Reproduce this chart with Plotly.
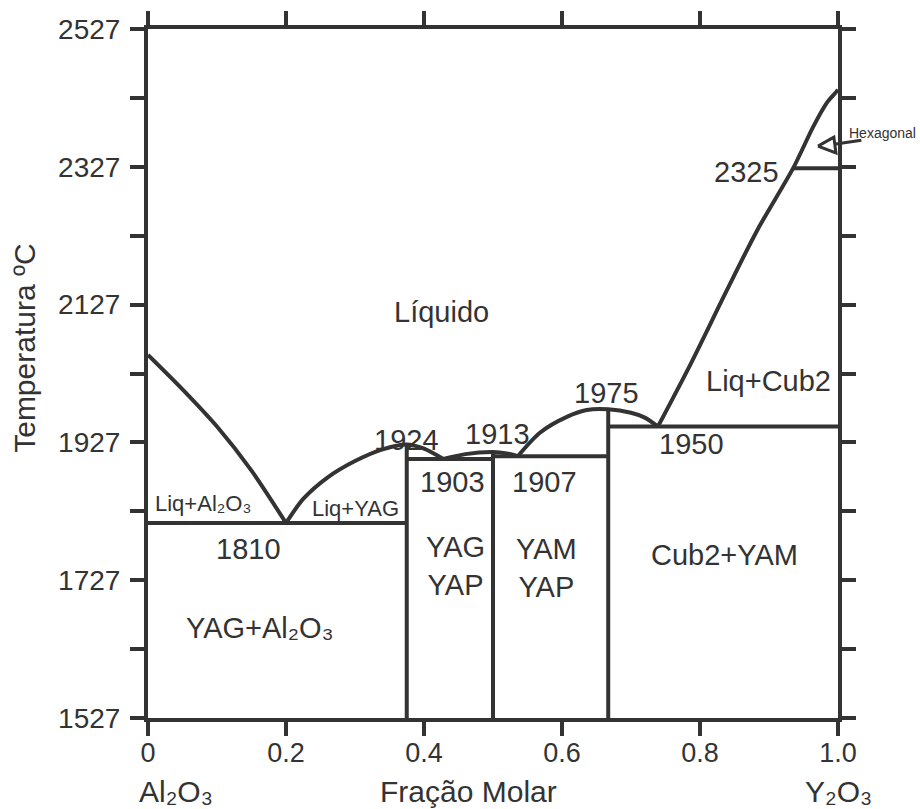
import plotly.graph_objects as go

# Liquidus branches (molar fraction of Y2O3, temperature in °C)
liq_al2o3_x = [0.0, 0.05, 0.10, 0.15, 0.2]
liq_al2o3_t = [2054, 2004, 1950, 1886, 1810]

liq_yag_x = [0.2, 0.225, 0.26, 0.30, 0.34, 0.375, 0.40, 0.428]
liq_yag_t = [1810, 1845, 1876, 1900, 1917, 1924, 1918, 1903]

liq_yap_x = [0.428, 0.46, 0.5, 0.52, 0.536]
liq_yap_t = [1903, 1910, 1913, 1911, 1907]

liq_yam_x = [0.536, 0.568, 0.607, 0.636, 0.667, 0.70, 0.72, 0.739]
liq_yam_t = [1907, 1941, 1964, 1974, 1975, 1970, 1963, 1950]

liq_cub_x = [0.739, 0.786, 0.839, 0.883, 0.935, 0.964, 0.984, 0.996, 1.0]
liq_cub_t = [1950, 2040, 2148, 2235, 2325, 2385, 2420, 2434, 2439]

# Invariant isotherms: (x start, x end, temperature)
isotherm_x0 = [0.0, 0.375, 0.5, 0.667, 0.935]
isotherm_x1 = [0.375, 0.5, 0.667, 1.0, 1.0]
isotherm_t = [1810, 1903, 1907, 1950, 2325]

# Intermediate compounds (YAG, YAP, YAM): composition and melting point
compound_x = [0.375, 0.5, 0.667]
compound_t = [1924, 1913, 1975]
t_min, t_max = 1527, 2527

# Hexagonal-phase pointer (open triangle + leader)
hex_tri_x = [0.971, 0.994, 0.997, 0.971]
hex_tri_t = [2357, 2370, 2347, 2357]
hex_lead_x = [0.997, 1.036]
hex_lead_t = [2360, 2366]

# Axis ticks
x_ticks = [0, 0.2, 0.4, 0.6, 0.8, 1.0]
x_ticktext = ["0", "0.2", "0.4", "0.6", "0.8", "1.0"]
y_ticks = list(range(1527, 2528, 200))
y_ticktext = [str(v) for v in y_ticks]
y_minor = list(range(1627, 2528, 200))

# Region and temperature labels: (text, x, T, size)
labels = [
    ("Líquido", 0.426, 2116, 29),
    ("Liq+Al₂O₃", 0.080, 1838, 22),
    ("Liq+YAG", 0.300, 1831, 22),
    ("1810", 0.145, 1772, 29),
    ("1924", 0.374, 1930, 29),
    ("1903", 0.441, 1869, 29),
    ("1913", 0.507, 1939, 29),
    ("1907", 0.575, 1869, 29),
    ("1975", 0.665, 1998, 29),
    ("1950", 0.787, 1924, 29),
    ("2325", 0.867, 2320, 29),
    ("Liq+Cub2", 0.899, 2016, 29),
    ("YAG<br>YAP", 0.445, 1747, 29),
    ("YAM<br>YAP", 0.578, 1744, 29),
    ("Cub2+YAM", 0.836, 1764, 29),
    ("YAG+Al₂O₃", 0.162, 1657, 29),
]

INK = "#333333"
FONT = "Liberation Sans, Arial, sans-serif"
LW = 4

fig = go.Figure()


def curve(xs, ts, shape="spline"):
    fig.add_trace(go.Scatter(
        x=xs, y=ts, mode="lines",
        line=dict(color=INK, width=LW, shape=shape, smoothing=0.8),
        hoverinfo="skip", showlegend=False,
    ))


for xs, ts in [(liq_al2o3_x, liq_al2o3_t), (liq_yag_x, liq_yag_t),
               (liq_yap_x, liq_yap_t), (liq_yam_x, liq_yam_t),
               (liq_cub_x, liq_cub_t)]:
    curve(xs, ts)

for x0, x1, t in zip(isotherm_x0, isotherm_x1, isotherm_t):
    curve([x0, x1], [t, t], shape="linear")

for xc, tc in zip(compound_x, compound_t):
    curve([xc, xc], [t_min, tc], shape="linear")

fig.add_trace(go.Scatter(
    x=hex_tri_x, y=hex_tri_t, mode="lines",
    line=dict(color=INK, width=3), hoverinfo="skip", showlegend=False,
))

annotations = []
for text, x, t, size in labels:
    annotations.append(dict(
        text=text, x=x, y=t, xref="x", yref="y", showarrow=False,
        font=dict(family=FONT, size=size, color=INK),
        xanchor="center", yanchor="middle",
    ))

# Hexagonal phase: name and leader line
annotations.append(dict(
    text="Hexagonal", x=1.064, y=(2376 - t_min) / (t_max - t_min),
    xref="paper", yref="paper", showarrow=False,
    xanchor="center", yanchor="middle",
    font=dict(family=FONT, size=14, color=INK),
))
annotations.append(dict(
    text="", x=hex_lead_x[0], y=hex_lead_t[0], xref="x", yref="y",
    ax=hex_lead_x[1], ay=hex_lead_t[1], axref="x", ayref="y",
    showarrow=True, arrowhead=0, arrowwidth=3, arrowcolor=INK,
))

# Axis titles and end-member names (anchored to the bottom edge of the page)
bottom = dict(xref="paper", yref="paper", showarrow=False,
              xanchor="center", yanchor="bottom", borderpad=0,
              font=dict(family=FONT, size=30, color=INK))
y_bottom = -91 / 689
annotations += [
    dict(text="Temperatura ºC", x=-0.18, y=0.537, xref="paper", yref="paper",
         textangle=-90, showarrow=False, xanchor="center", yanchor="middle",
         font=dict(family=FONT, size=30, color=INK)),
    dict(text="Al₂O₃", x=0.04, y=y_bottom, **bottom),
    dict(text="Fração Molar", x=0.464, y=y_bottom, **bottom),
    dict(text="Y₂O₃", x=1.0, y=y_bottom, **bottom),
]

axis_common = dict(
    showline=True, linewidth=LW, linecolor=INK, mirror="ticks",
    ticks="outside", ticklen=14, tickwidth=LW, tickcolor=INK,
    showgrid=False, zeroline=False, tickmode="array",
)

fig.update_layout(
    width=920, height=809,
    margin=dict(l=148, r=82, t=29, b=91),
    paper_bgcolor="white", plot_bgcolor="white",
    xaxis=dict(range=[0, 1], tickvals=x_ticks, ticktext=x_ticktext,
               tickfont=dict(family=FONT, size=27, color=INK),
               ticklabelstandoff=-6, **axis_common),
    yaxis=dict(range=[t_min, t_max], tickvals=y_ticks, ticktext=y_ticktext,
               tickfont=dict(family=FONT, size=28, color=INK),
               ticklabelstandoff=4,
               minor=dict(tickvals=y_minor, ticks="outside", ticklen=14,
                          tickwidth=LW, tickcolor=INK),
               **axis_common),
    annotations=annotations,
    showlegend=False,
)

fig.write_html("out.html")
